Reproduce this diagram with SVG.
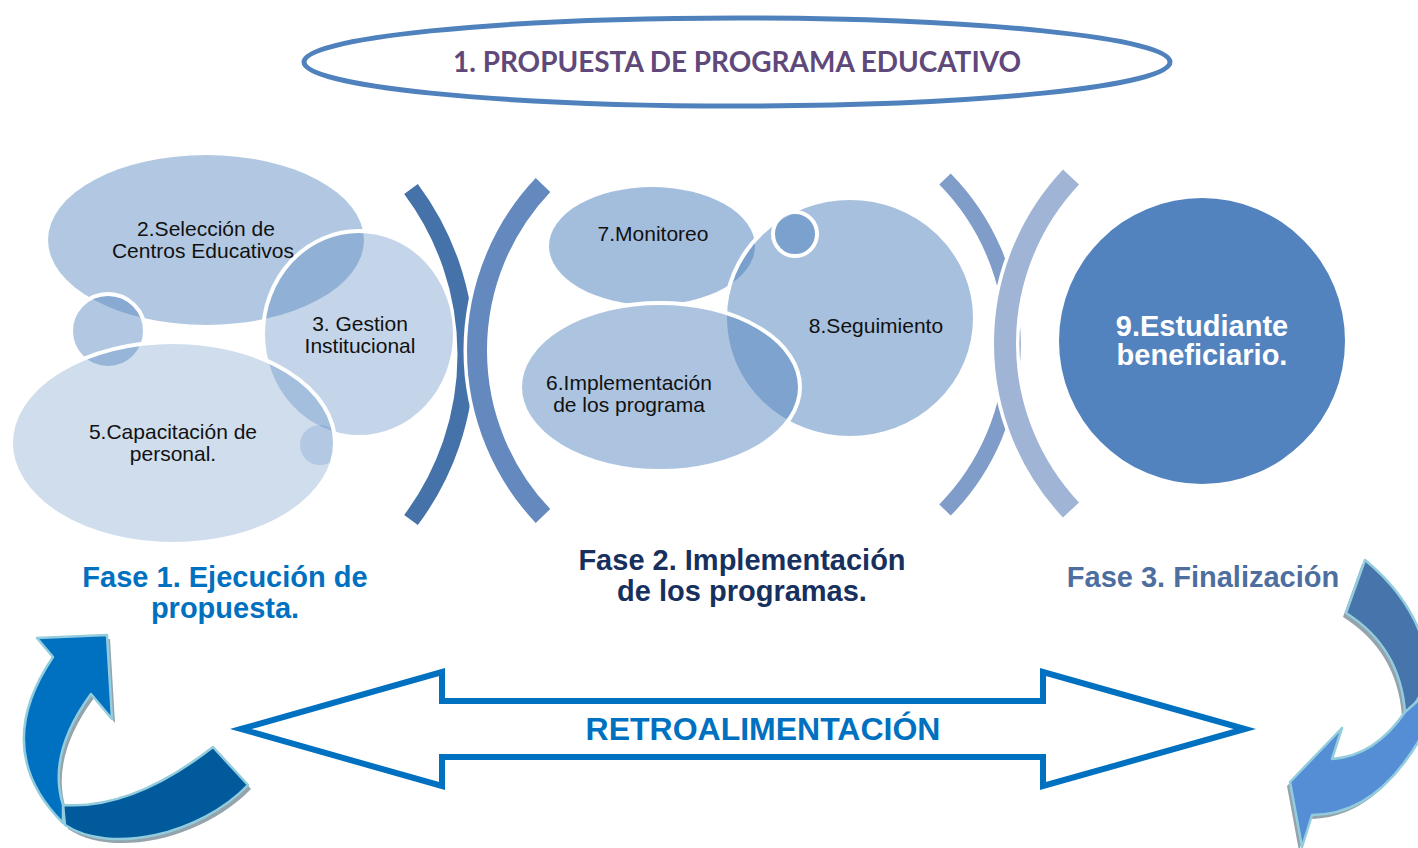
<svg xmlns="http://www.w3.org/2000/svg" width="1418" height="848" viewBox="0 0 1418 848">
<defs>
<style>
.t{font-family:"Liberation Sans",Arial,sans-serif;font-size:21px;fill:#111;text-anchor:middle}
.ph{font-family:"Liberation Sans",Arial,sans-serif;font-size:29px;font-weight:bold;text-anchor:middle}
.nd{fill:#4f81bd;stroke:#fff;stroke-width:4}
.arc{fill:none;stroke-linecap:butt}
.cv{stroke:#93cddd;stroke-width:2.5;stroke-linejoin:round}
.sh{fill:#95a3ad}
</style>
<clipPath id="clip5"><ellipse cx="173" cy="443" rx="160" ry="99"/></clipPath>
</defs>
<rect width="1418" height="848" fill="#fff"/>

<g id="title">
<ellipse cx="737" cy="62" rx="433" ry="44" fill="#fff" stroke="#4f81bd" stroke-width="5"/>
<text x="737" y="72" font-family="Lato,'Open Sans',sans-serif" font-size="28" font-weight="bold" fill="#5f497a" text-anchor="middle" textLength="568" lengthAdjust="spacingAndGlyphs">1. PROPUESTA DE PROGRAMA EDUCATIVO</text>
</g>

<g id="fase1-nodes">
<g id="n2"><ellipse class="nd" cx="206" cy="240" rx="158" ry="85" fill-opacity="0.44" style="stroke:none"/></g>
<g id="n-small-left"><circle class="nd" cx="108" cy="331" r="37" fill-opacity="0.44"/></g>
<g id="n3"><ellipse class="nd" cx="359" cy="334" rx="96" ry="103" fill-opacity="0.33"/></g>
<g id="n5"><ellipse class="nd" cx="173" cy="443" rx="162" ry="101" fill-opacity="0.27"/></g>
<g id="n-small-right"><circle cx="320" cy="445" r="20" fill="#4f81bd" fill-opacity="0.22" clip-path="url(#clip5)"/></g>
<text class="t" x="206" y="236">2.Selección de</text>
<text class="t" x="203" y="258">Centros Educativos</text>
<text class="t" x="360" y="331">3. Gestion</text>
<text class="t" x="360" y="353">Institucional</text>
<text class="t" x="173" y="439">5.Capacitación de</text>
<text class="t" x="173" y="461">personal.</text>
</g>

<g id="brackets">
<path class="arc" d="M411,189 A276.5,276.5 0 0 1 411,520" stroke="#4672aa" stroke-width="17"/>
<path class="arc" d="M543,185 A240.5,240.5 0 0 0 543,516" stroke="#fff" stroke-width="27"/>
<path class="arc" d="M543,185 A240.5,240.5 0 0 0 543,516" stroke="#6389bf" stroke-width="20"/>
<path class="arc" d="M945,179 A236,236 0 0 1 945,510" stroke="#7f9dc8" stroke-width="16"/>
<path class="arc" d="M1071,177 A243,243 0 0 0 1071,510" stroke="#fff" stroke-width="29"/>
<path class="arc" d="M1071,177 A243,243 0 0 0 1071,510" stroke="#a0b4d6" stroke-width="22"/>
</g>

<g id="fase2-nodes">
<g id="n7"><ellipse class="nd" cx="652" cy="246" rx="103" ry="59" fill-opacity="0.52" style="stroke:none"/></g>
<g id="n8"><ellipse class="nd" cx="850" cy="318" rx="125" ry="120" fill-opacity="0.5"/></g>
<g id="n8-small"><circle class="nd" cx="795" cy="234" r="22" fill-opacity="0.5"/></g>
<g id="n6"><ellipse class="nd" cx="660" cy="387" rx="140" ry="84" fill-opacity="0.47"/></g>
<text class="t" x="653" y="241">7.Monitoreo</text>
<text class="t" x="876" y="333">8.Seguimiento</text>
<text class="t" x="629" y="390">6.Implementación</text>
<text class="t" x="629" y="412">de los programa</text>
</g>

<g id="n9">
<circle cx="1202" cy="341" r="143" fill="#5283be"/>
<text class="ph" x="1202" y="336" fill="#fff" font-size="30">9.Estudiante</text>
<text class="ph" x="1202" y="365" fill="#fff" font-size="30">beneficiario.</text>
</g>

<g id="phases">
<text class="ph" x="225" y="587" fill="#0070c0">Fase 1. Ejecución de</text>
<text class="ph" x="225" y="618" fill="#0070c0">propuesta.</text>
<text class="ph" x="742" y="570" fill="#17305e">Fase 2. Implementación</text>
<text class="ph" x="742" y="601" fill="#17305e">de los programas.</text>
<text class="ph" x="1203" y="587" fill="#4d6e9e">Fase 3. Finalización</text>
</g>

<g id="connectors">
<g id="retro">
<polygon points="241,729 442,672 442,701 1043,701 1043,672 1245,729 1043,786 1043,757 442,757 442,786" fill="#fff" stroke="#0070c0" stroke-width="6" stroke-linejoin="miter"/>
<text x="763" y="740" font-family="'Liberation Sans',Arial,sans-serif" font-size="32" font-weight="bold" fill="#0070c0" text-anchor="middle">RETROALIMENTACIÓN</text>
</g>
<g id="curve-left">
<g transform="translate(3,4)">
<path class="sh" d="M37,638 L107,635 L112,719 L91,694 Q47,754 63,805 L63,823 Q-10,750 53,657 Z"/>
<path class="sh" d="M63,805 Q132,810 213,747 L248,785 C200,835 110,855 65,825 Z"/>
</g>
<path class="cv" fill="#005a9c" d="M63,805 Q132,810 213,747 L248,785 C200,835 110,855 65,825 Z"/>
<path class="cv" fill="#0070c0" d="M37,638 L107,635 L112,719 L91,694 Q47,754 63,805 L63,823 Q-10,750 53,657 Z"/>
</g>
<g id="curve-right">
<g transform="translate(-3,4)">
<path class="sh" d="M1365,560 Q1426,610 1430,680 L1407,716 L1405,712 Q1400,647 1346,613 Z"/>
<path class="sh" d="M1405,712 Q1375,756 1332,759 L1342,728 L1290,782 L1302,847 L1312,815 Q1379,815 1425,730 L1430,690 Z"/>
</g>
<path class="cv" fill="#4674ab" d="M1365,560 Q1426,610 1430,680 L1407,716 L1405,712 Q1400,647 1346,613 Z"/>
<path class="cv" fill="#558ed5" d="M1405,712 Q1375,756 1332,759 L1342,728 L1290,782 L1302,847 L1312,815 Q1379,815 1425,730 L1430,690 Z"/>
</g>
</g>
</svg>
